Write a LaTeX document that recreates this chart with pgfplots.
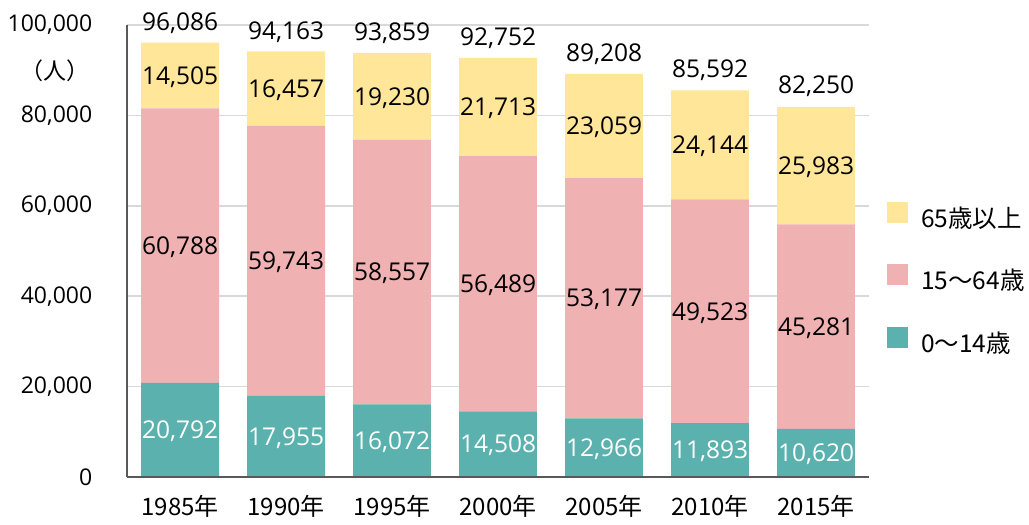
\documentclass[border=0pt]{standalone}
\usepackage{pgfplots}
\pgfplotsset{compat=1.18}
\usepackage{pgfplotstable}
\usepackage{fontspec}
\setmainfont{Open Sans}
\newfontfamily\jp{Noto Sans CJK JP}
\definecolor{cteal}{HTML}{5BB1AE}
\definecolor{cpink}{HTML}{F0B1B2}
\definecolor{cyellow}{HTML}{FFE699}
\definecolor{cgrid}{HTML}{D9D9D9}
\definecolor{caxis}{HTML}{595959}
\pgfplotstableread{
x a b c t la lb lc lt
0 20792 60788 14505 96086 20,792 60,788 14,505 96,086
1 17955 59743 16457 94163 17,955 59,743 16,457 94,163
2 16072 58557 19230 93859 16,072 58,557 19,230 93,859
3 14508 56489 21713 92752 14,508 56,489 21,713 92,752
4 12966 53177 23059 89208 12,966 53,177 23,059 89,208
5 11893 49523 24144 85592 11,893 49,523 24,144 85,592
6 10620 45281 25983 82250 10,620 45,281 25,983 82,250
}\data
\pgfplotsset{base/.style={width=742pt, height=452pt, scale only axis, at={(0,0)}, anchor=south west,
  xmin=-0.5, xmax=6.5, ymin=0, ymax=100000, xtick={0,1,2,3,4,5,6}, ytick={0,20000,40000,60000,80000,100000},
  scaled y ticks=false, major tick length=0pt}}
\begin{document}
\fontsize{23}{28}\selectfont
\begin{tikzpicture}
\begin{axis}[base, ybar stacked, bar width=0.735,
  ymajorgrids, grid style={color=cgrid, line width=1.5pt},
  axis line style={draw=none},
  xticklabels={1985年,1990年,1995年,2000年,2005年,2010年,2015年},
  xticklabel style={font=\jp\fontsize{24}{28}\selectfont, yshift=-10pt},
  yticklabels={0,{20,000},{40,000},{60,000},{80,000},{100,000}},
  yticklabel style={xshift=-27pt},
  legend image code/.code={\fill[#1] (0pt,-2pt) rectangle (21pt,19pt);},
  reverse legend,
  legend style={at={(1.0243,0.438)}, anchor=west, draw=none, fill=none, inner sep=0pt,
    row sep=33pt, column sep=13pt, nodes={inner sep=0pt, text height=17pt, text depth=4pt, font=\jp\fontsize{24.5}{28}\selectfont}},
  legend cell align=left]
\addplot[fill=cteal, draw=none] table[x=x, y=a]{\data};
\addlegendentry{0～14歳}
\addplot[fill=cpink, draw=none] table[x=x, y=b]{\data};
\addlegendentry{15～64歳}
\addplot[fill=cyellow, draw=none] table[x=x, y=c]{\data};
\addlegendentry{65歳以上}
\end{axis}
\begin{axis}[base, axis x line*=bottom, axis y line*=left,
  axis line style={color=caxis, line width=1.5pt},
  xticklabels={}, yticklabels={},
  nodes near coords, point meta=explicit symbolic,
  every node near coord/.append style={anchor=base, yshift=-8.8pt, inner sep=0pt, font=\fontsize{24.5}{29}\selectfont}]
\addplot[draw=none, mark=none, every node near coord/.append style={text=white}] table[x=x, y expr=\thisrow{a}/2, meta=la]{\data};
\addplot[draw=none, mark=none] table[x=x, y expr=\thisrow{a}+\thisrow{b}/2, meta=lb]{\data};
\addplot[draw=none, mark=none] table[x=x, y expr=\thisrow{a}+\thisrow{b}+\thisrow{c}/2, meta=lc]{\data};
\addplot[draw=none, mark=none, every node near coord/.append style={yshift=21pt}] table[x=x, y=t, meta=lt]{\data};
\end{axis}
\node[font=\jp] at (-72pt,406pt) {（人）};
\path[use as bounding box] (-127pt,-42pt) rectangle (902pt,477pt);
\end{tikzpicture}
\end{document}
